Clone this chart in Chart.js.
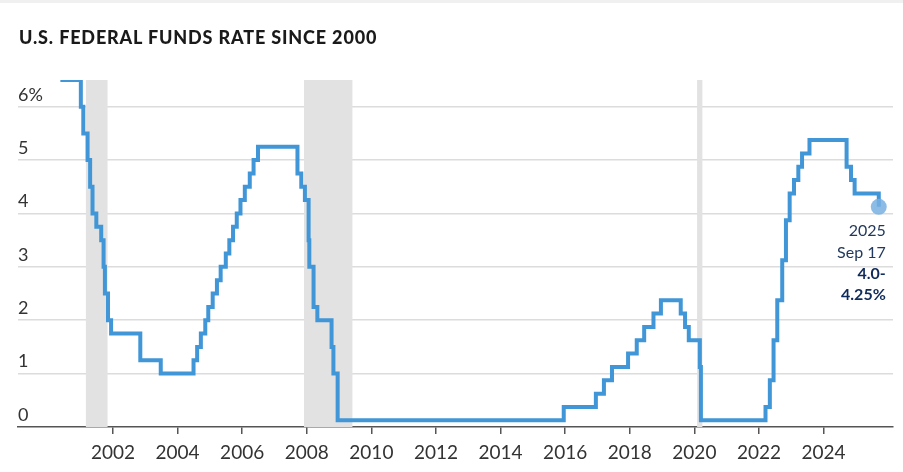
<!DOCTYPE html>
<html lang="en">
<head>
    <meta charset="UTF-8">
    <title>U.S. Federal Funds Rate Since 2000</title>
    <script src="https://cdn.jsdelivr.net/npm/chart.js"></script>
    <style>
        body {
            margin: 0;
            background: #fff;
            font-family: Lato, "Open Sans", sans-serif;
        }
        .wrap {
            position: relative;
            width: 903px;
            height: 472px;
        }
        .topbar {
            position: absolute;
            left: 0;
            top: 0;
            width: 903px;
            height: 3px;
            background: #f0f0f0;
        }
        h1 {
            position: absolute;
            left: 19px;
            top: 27px;
            margin: 0;
            font-size: 18px;
            line-height: 20px;
            letter-spacing: 0.85px;
            font-weight: 900;
            color: #1a1a1a;
            z-index: 2;
        }
        canvas {
            position: absolute;
            left: 0;
            top: 0;
        }
    </style>
</head>
<body>
<div class="wrap">
    <div class="topbar"></div>
    <h1>U.S. FEDERAL FUNDS RATE SINCE 2000</h1>
    <canvas id="chart" width="903" height="472"></canvas>
</div>

<script>
    // Fed funds target changes (midpoint of the target range after 2008)
    const changeDates = [
        "2000-05-16", "2001-01-03", "2001-01-31", "2001-03-20", "2001-04-18", "2001-05-15",
        "2001-06-27", "2001-08-21", "2001-09-17", "2001-10-02", "2001-11-06", "2001-12-11",
        "2002-11-06", "2003-06-25", "2004-06-30", "2004-08-10", "2004-09-21", "2004-11-10",
        "2004-12-14", "2005-02-02", "2005-03-22", "2005-05-03", "2005-06-30", "2005-08-09",
        "2005-09-20", "2005-11-01", "2005-12-13", "2006-01-31", "2006-03-28", "2006-05-10",
        "2006-06-29", "2007-09-18", "2007-10-31", "2007-12-11", "2008-01-22", "2008-01-30",
        "2008-03-18", "2008-04-30", "2008-10-08", "2008-10-29", "2008-12-16", "2015-12-16",
        "2016-12-14", "2017-03-15", "2017-06-14", "2017-12-13", "2018-03-21", "2018-06-13",
        "2018-09-26", "2018-12-19", "2019-07-31", "2019-09-18", "2019-10-30", "2020-03-03",
        "2020-03-15", "2022-03-16", "2022-05-04", "2022-06-15", "2022-07-27", "2022-09-21",
        "2022-11-02", "2022-12-14", "2023-02-01", "2023-03-22", "2023-05-03", "2023-07-26",
        "2024-09-18", "2024-11-07", "2024-12-18", "2025-09-17"
    ];
    const targetRates = [
        6.5, 6.0, 5.5, 5.0, 4.5, 4.0,
        3.75, 3.5, 3.0, 2.5, 2.0, 1.75,
        1.25, 1.0, 1.25, 1.5, 1.75, 2.0,
        2.25, 2.5, 2.75, 3.0, 3.25, 3.5,
        3.75, 4.0, 4.25, 4.5, 4.75, 5.0,
        5.25, 4.75, 4.5, 4.25, 3.5, 3.0,
        2.25, 2.0, 1.5, 1.0, 0.125, 0.375,
        0.625, 0.875, 1.125, 1.375, 1.625, 1.875,
        2.125, 2.375, 2.125, 1.875, 1.625, 1.125,
        0.125, 0.375, 0.875, 1.625, 2.375, 3.125,
        3.875, 4.375, 4.625, 4.875, 5.125, 5.375,
        4.875, 4.625, 4.375, 4.125
    ];

    const recessionStarts = ["2001-03-01", "2007-12-01", "2020-02-01"];
    const recessionEnds = ["2001-11-01", "2009-06-01", "2020-04-01"];

    const yearTicks = [2002, 2004, 2006, 2008, 2010, 2012, 2014, 2016, 2018, 2020, 2022, 2024];
    const rateTicks = [0, 1, 2, 3, 4, 5, 6];

    const noteLines = ["2025", "Sep 17", "4.0-", "4.25%"];

    // date string -> decimal year
    function toYear(s) {
        const d = new Date(s + "T00:00:00Z");
        const y = d.getUTCFullYear();
        const start = Date.UTC(y, 0, 1);
        const end = Date.UTC(y + 1, 0, 1);
        return y + (d - start) / (end - start);
    }

    const points = changeDates.map((d, i) => ({ x: toYear(d), y: targetRates[i] }));
    const lastIndex = points.length - 1;

    const recessionBands = {
        id: "recessionBands",
        beforeDatasetsDraw(chart) {
            const { ctx, scales: { x, y } } = chart;
            ctx.save();
            ctx.fillStyle = "#e2e2e2";
            recessionStarts.forEach((s, i) => {
                const x0 = x.getPixelForValue(toYear(s));
                const x1 = x.getPixelForValue(toYear(recessionEnds[i]));
                const top = y.getPixelForValue(6.5);
                const bottom = y.getPixelForValue(0);
                ctx.fillRect(x0, top, x1 - x0, bottom - top);
            });
            ctx.restore();
        }
    };

    const lastNote = {
        id: "lastNote",
        afterDatasetsDraw(chart) {
            const { ctx } = chart;
            const pt = chart.getDatasetMeta(0).data[lastIndex];
            ctx.save();
            ctx.textAlign = "right";
            ctx.textBaseline = "middle";
            const offsets = [24, 46, 67, 88];
            noteLines.forEach((t, i) => {
                const bold = i >= 2;
                ctx.font = (bold ? "bold " : "") + "16px Lato, sans-serif";
                ctx.fillStyle = bold ? "#0f2b5b" : "#22385c";
                ctx.fillText(t, pt.x + 7, pt.y + offsets[i]);
            });
            ctx.restore();
        }
    };

    new Chart(document.getElementById("chart"), {
        type: "line",
        data: {
            datasets: [{
                data: points,
                stepped: true,
                borderColor: "#4096d6",
                borderWidth: 4,
                fill: false,
                pointRadius: ctx => ctx.dataIndex === lastIndex ? 8 : 0,
                pointBackgroundColor: "rgba(120, 176, 226, 0.85)",
                pointBorderWidth: 0,
                pointHoverRadius: 0
            }]
        },
        options: {
            responsive: false,
            animation: false,
            layout: { padding: { left: 18, right: 10, top: 80, bottom: 0 } },
            plugins: {
                legend: { display: false },
                tooltip: { enabled: false }
            },
            scales: {
                x: {
                    type: "linear",
                    min: 1999.06,
                    max: 2026.15,
                    afterBuildTicks: axis => { axis.ticks = yearTicks.map(v => ({ value: v })); },
                    afterFit: axis => { axis.height = 45; },
                    border: { display: true, color: "#555", width: 1.5 },
                    grid: { drawOnChartArea: false, drawTicks: true, tickLength: 7, color: "#555", lineWidth: 1.5 },
                    ticks: {
                        padding: 7,
                        color: "#333",
                        font: { family: "Lato", size: 19 },
                        maxRotation: 0,
                        callback: v => String(v)
                    }
                },
                y: {
                    min: 0,
                    max: 6.5,
                    afterBuildTicks: axis => { axis.ticks = rateTicks.map(v => ({ value: v })); },
                    afterFit: axis => { axis.width = 0; },
                    border: { display: false },
                    grid: {
                        drawTicks: false,
                        color: c => c.tick && c.tick.value === 0 ? "rgba(0,0,0,0)" : "#dcdcdc",
                        lineWidth: 1.5
                    },
                    ticks: {
                        mirror: true,
                        padding: 0,
                        labelOffset: -12,
                        color: "#333",
                        font: { family: "Lato", size: 18 },
                        callback: v => v === 6 ? "6%" : String(v)
                    }
                }
            }
        },
        plugins: [recessionBands, lastNote]
    });
</script>
</body>
</html>
